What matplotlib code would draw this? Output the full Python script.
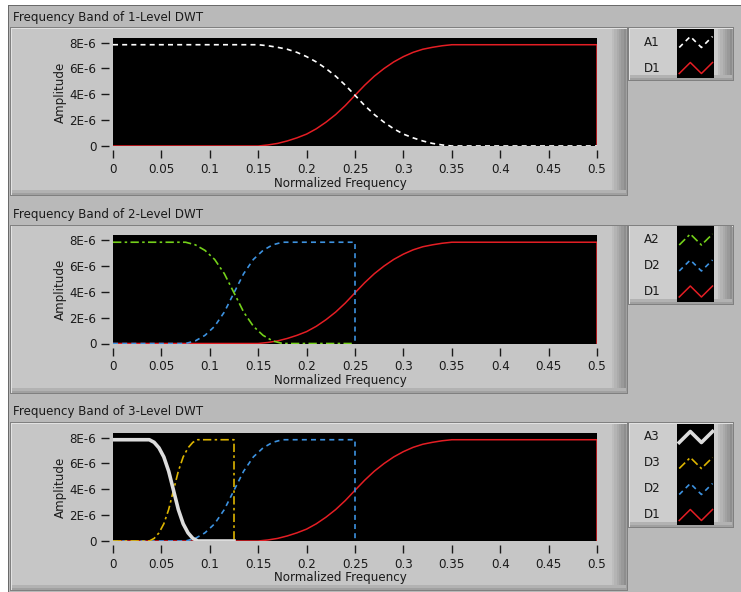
import matplotlib.pyplot as plt
from matplotlib.patches import Rectangle

# figure size in pixels
W, H = 741, 592

# ---- data (amplitudes in units of 1E-6) ----
freq_d1 = [0, 0.15, 0.16, 0.17, 0.18, 0.19, 0.20, 0.21, 0.22, 0.23, 0.24, 0.25,
           0.26, 0.27, 0.28, 0.29, 0.30, 0.31, 0.32, 0.33, 0.34, 0.35, 0.5, 0.5]
amp_d1 = [0, 0, 0.08, 0.2, 0.39, 0.63, 0.92, 1.33, 1.84, 2.43, 3.13, 3.92,
          4.70, 5.40, 5.99, 6.50, 6.91, 7.24, 7.48, 7.63, 7.75, 7.83, 7.83, 0]

freq_a1 = [0, 0.15, 0.16, 0.17, 0.18, 0.19, 0.20, 0.21, 0.22, 0.23, 0.24, 0.25,
           0.26, 0.27, 0.28, 0.29, 0.30, 0.31, 0.32, 0.33, 0.34, 0.35, 0.5]
amp_a1 = [7.83, 7.83, 7.75, 7.63, 7.48, 7.24, 6.91, 6.50, 5.99, 5.40, 4.70, 3.92,
          3.13, 2.43, 1.84, 1.33, 0.92, 0.63, 0.39, 0.2, 0.08, 0, 0]

freq_a2 = [0, 0.075, 0.085, 0.095, 0.105, 0.115, 0.125, 0.135, 0.145, 0.155,
           0.165, 0.175, 0.25]
amp_a2 = [7.83, 7.83, 7.63, 7.20, 6.50, 5.40, 3.92, 2.43, 1.33, 0.63, 0.2, 0, 0]

freq_d2 = [0, 0.075, 0.085, 0.095, 0.105, 0.115, 0.125, 0.135, 0.145, 0.155,
           0.165, 0.175, 0.25, 0.25]
amp_d2 = [0, 0, 0.2, 0.63, 1.33, 2.43, 3.92, 5.40, 6.50, 7.20, 7.63, 7.83, 7.83, 0]

freq_a3 = [0, 0.0375, 0.0425, 0.0475, 0.0525, 0.0575, 0.0625, 0.0675, 0.0725,
           0.0775, 0.0825, 0.0875, 0.125]
amp_a3 = [7.83, 7.83, 7.63, 7.20, 6.50, 5.40, 3.92, 2.43, 1.33, 0.63, 0.2, 0, 0]

freq_d3 = [0, 0.0375, 0.0425, 0.0475, 0.0525, 0.0575, 0.0625, 0.0675, 0.0725,
           0.0775, 0.0825, 0.0875, 0.125, 0.125]
amp_d3 = [0, 0, 0.2, 0.63, 1.33, 2.43, 3.92, 5.40, 6.50, 7.20, 7.63, 7.83, 7.83, 0]

y_ticks = [0, 2, 4, 6, 8]
y_tick_labels = ['0', '2E-6', '4E-6', '6E-6', '8E-6']
x_ticks = [0, 0.05, 0.1, 0.15, 0.2, 0.25, 0.3, 0.35, 0.4, 0.45, 0.5]
x_tick_labels = ['0', '0.05', '0.1', '0.15', '0.2', '0.25', '0.3', '0.35', '0.4', '0.45', '0.5']

titles = ['Frequency Band of 1-Level DWT',
          'Frequency Band of 2-Level DWT',
          'Frequency Band of 3-Level DWT']

# line styles
st_a1 = dict(color='white', lw=1.2, ls=(0, (3, 2.5)))
st_d1 = dict(color='#e41e24', lw=1.1, ls='-')
st_a2 = dict(color='#74d01a', lw=1.2, ls=(0, (5, 2, 1.5, 2)))
st_d2 = dict(color='#3d92e0', lw=1.2, ls=(0, (3, 2.5)))
st_a3 = dict(color='#dcdcdc', lw=2.6, ls='-')
st_d3 = dict(color='#dcb400', lw=1.2, ls=(0, (5, 2, 1.5, 2)))

# series per panel, drawn bottom to top
panels = [
    [('D1', freq_d1, amp_d1, st_d1), ('A1', freq_a1, amp_a1, st_a1)],
    [('D1', freq_d1, amp_d1, st_d1), ('D2', freq_d2, amp_d2, st_d2),
     ('A2', freq_a2, amp_a2, st_a2)],
    [('D1', freq_d1, amp_d1, st_d1), ('D2', freq_d2, amp_d2, st_d2),
     ('D3', freq_d3, amp_d3, st_d3), ('A3', freq_a3, amp_a3, st_a3)],
]

BG = '#b9b9b9'
PANEL = '#c6c6c6'
TXT = '#1a1a1a'
FS = 8.6


def rect(fig, x0, y0, x1, y1, color, z=0):
    # rectangle given in pixel coords (origin top-left)
    fig.patches.append(Rectangle((x0 / W, 1 - y1 / H), (x1 - x0) / W, (y1 - y0) / H,
                                 transform=fig.transFigure, facecolor=color,
                                 edgecolor='none', zorder=z))


def bevel_box(fig, x0, y0, x1, y1, face):
    rect(fig, x0, y0, x1, y1, '#808080')
    rect(fig, x0 + 1, y0 + 1, x1 - 1, y1 - 1, '#e2e2e2')
    rect(fig, x0 + 2, y0 + 2, x1 - 1, y1 - 1, '#a0a0a0')
    rect(fig, x0 + 2, y0 + 2, x1 - 2, y1 - 3, face)
    # darker shading on the right side
    shades = ['#bdbdbd', '#b4b4b4', '#ababab', '#a2a2a2', '#999999', '#8e8e8e']
    for k, c in enumerate(shades):
        rect(fig, x1 - 16 + k * 2.3, y0 + 2, x1 - 2, y1 - 3, c)
    rect(fig, x0 + 2, y1 - 6, x1 - 2, y1 - 3, '#b2b2b2')


fig = plt.figure(figsize=(W / 100, H / 100), dpi=100)
fig.patch.set_facecolor('white')

# outer window background
rect(fig, 8, 5, W, H, '#6a6a6a')
rect(fig, 9, 6, W, H, BG)

offset = 197.5
for i, series in enumerate(panels):
    dy = i * offset

    # title
    fig.text(13 / W, 1 - (17 + dy) / H, titles[i], fontsize=FS, color=TXT,
             ha='left', va='center')

    # graph panel
    bevel_box(fig, 10, 27 + dy, 628, 196 + dy, PANEL)

    # plot area
    ax = fig.add_axes([113 / W, 1 - (146 + dy) / H, 484 / W, 108 / H])
    ax.set_zorder(5)
    ax.set_facecolor('black')
    for label, fr, amp, st in series:
        ax.plot(fr, [a * 1e-6 for a in amp], **st)
    ax.set_xlim(0, 0.5)
    ax.set_ylim(0, 8.35e-6)
    ax.set_xticks(x_ticks)
    ax.set_xticklabels(x_tick_labels)
    ax.set_yticks([v * 1e-6 for v in y_ticks])
    ax.set_yticklabels(y_tick_labels)
    for s in ['top', 'right']:
        ax.spines[s].set_visible(False)
    for s in ['bottom', 'left']:
        ax.spines[s].set_position(('outward', 3))
        ax.spines[s].set_visible(False)
    ax.tick_params(direction='out', length=6, width=1, color=TXT,
                   labelsize=FS, labelcolor=TXT, pad=3)

    fig.text(340 / W, 1 - (183 + dy) / H, 'Normalized Frequency', fontsize=FS,
             color=TXT, ha='center', va='center', zorder=6)
    fig.text(60 / W, 1 - (92 + dy) / H, 'Amplitude', fontsize=FS, color=TXT,
             ha='center', va='center', rotation=90, zorder=6)

    # legend box
    n = len(series)
    ly0 = 27 + dy
    ly1 = ly0 + 2 + 26 * n
    bevel_box(fig, 628, ly0, 734, ly1, '#cdcdcd')
    rect(fig, 677, ly0 + 2, 714, ly1 - 3, 'black', z=1)
    lax = fig.add_axes([677 / W, 1 - (ly1 - 3) / H, 37 / W, (ly1 - 3 - ly0 - 2) / H])
    lax.set_zorder(5)
    lax.set_axis_off()
    lax.set_xlim(0, 1)
    lax.set_ylim(ly1 - 3, ly0 + 2)
    order = series[::-1][:1] + series[:-1][::-1]
    for j, (label, fr, amp, st) in enumerate(order):
        yc = ly0 + 15 + 26 * j
        fig.text(652 / W, 1 - yc / H, label, fontsize=FS, color=TXT,
                 ha='center', va='center', zorder=6)
        lax.plot([0.06, 0.36, 0.66, 0.96], [yc + 5.5, yc - 5.5, yc + 5.5, yc - 5.5], **st)

fig.savefig('out.png', dpi=100)
